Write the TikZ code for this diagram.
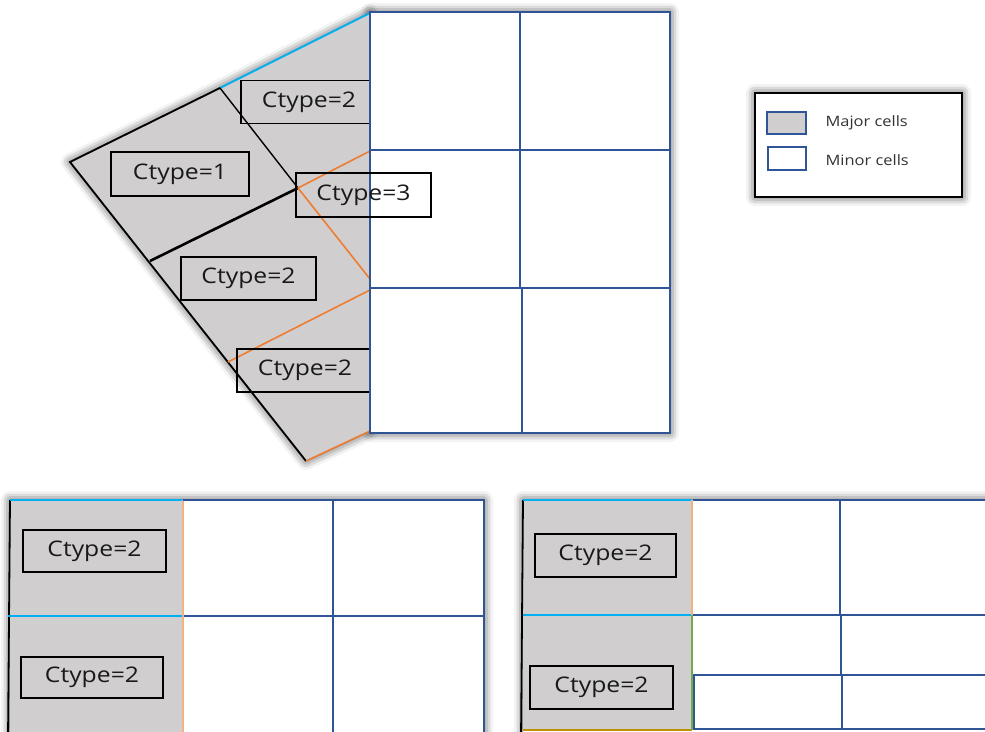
\documentclass[tikz,border=0pt]{standalone}
\usepackage{fontspec}
\setmainfont{Open Sans}
\newfontfamily\lblfont[FakeStretch=1.15]{Open Sans}
\usetikzlibrary{positioning,shadows.blur}
\definecolor{gridblue}{RGB}{47,85,151}
\definecolor{cellgray}{RGB}{208,206,206}
\definecolor{skyline}{RGB}{0,176,240}
\definecolor{orangeline}{RGB}{237,125,49}
\definecolor{peachline}{RGB}{244,177,131}
\definecolor{greenline}{RGB}{112,173,71}
\definecolor{goldline}{RGB}{191,144,0}
\newcommand{\majorhull}{(370,13)--(220,88)--(70,162)--(306,461)--(370,431)--cycle}
\newcommand{\topgrid}{(370,12) rectangle (670,433)}

\begin{document}
\begin{tikzpicture}[x=1pt,y=-1pt,
    ctype/.style={draw=black,line width=1.7pt,inner sep=0pt,minimum width=136pt,minimum height=43pt,
      text=black!90,font=\lblfont\fontsize{21.5}{24}\selectfont},
    gridline/.style={draw=gridblue,line width=1.8pt},
    glow/.style={blur shadow={shadow xshift=0pt,shadow yshift=0pt,shadow blur radius=9pt,shadow opacity=75}}]
    \useasboundingbox (0,0) rectangle (985,731);
    % ---- upper picture: rotated major cells against the minor grid
    \path[glow,fill=white] \topgrid;
    \fill[cellgray,glow] \majorhull;
    \coordinate (apex) at (370,13);   \coordinate (kink) at (220,88);
    \coordinate (tip) at (70,162);    \coordinate (foot) at (306,461);
    \coordinate (junc) at (298,188);  \coordinate (edgeA) at (150,261);
    \coordinate (edgeB) at (228,362);
    \draw[skyline,line width=1.8pt] (apex) -- (kink);
    \draw[black,line width=1.8pt] (kink) -- (tip) -- (foot);
    \draw[black,line width=1.4pt] (kink) -- (junc);
    \draw[black,line width=2.6pt] (junc) -- (edgeA);
    \draw[orangeline,line width=1.6pt] (junc) -- (370,151);
    \draw[orangeline,line width=1.6pt] (junc) -- (370,279);
    \draw[orangeline,line width=1.6pt] (370,290) -- (edgeB);
    \draw[orangeline,line width=1.6pt] (foot) -- (370,431);
    \node[ctype] (c2top) at (309,102) {Ctype=2};
    \node[ctype,minimum width=138pt,minimum height=44pt] (c1) at (180,174) {Ctype=1};
    \node[ctype,minimum width=135pt] (c2mid) at (248.5,278.5) {Ctype=2};
    \node[ctype] (c2low) at (305,370.5) {Ctype=2};
    % minor grid on top
    \filldraw[gridline,fill=white] \topgrid;
    \draw[gridline] (520,12) -- (520,288) (522,288) -- (522,433)
                    (370,150) -- (670,150) (370,288) -- (670,288);
    \node[ctype,minimum width=135pt,minimum height=44pt] (c3) at (363.5,195) {Ctype=3};
    % ---- legend
    \filldraw[glow,fill=white,draw=black,line width=2.2pt] (755,93) rectangle (962,197);
    \filldraw[fill=cellgray,draw=gridblue,line width=1.5pt] (767,112) rectangle (806,134);
    \filldraw[fill=white,draw=gridblue,line width=1.5pt] (768,147) rectangle (806,170);
    \node[anchor=west,text=black!80,font=\lblfont\fontsize{14.3}{16}\selectfont] (major) at (822,123) {Major cells};
    \node[anchor=west,text=black!80,font=\lblfont\fontsize{14.3}{16}\selectfont] (minor) at (822,160) {Minor cells};
    % ---- lower left picture
    \path[glow,fill=white] (10,500) rectangle (484,745);
    \fill[cellgray] (10,500) rectangle (183,745);
    \fill[white] (183,500) rectangle (484,745);
    \draw[black,line width=1.8pt] (10,500) -- (8,740);
    \draw[skyline,line width=2pt] (10,500) -- (183,500) (8,616) -- (183,616);
    \draw[peachline,line width=1.6pt] (183,500) -- (183,740);
    \draw[gridline] (183,500) -- (484,500) -- (484,740) (333,500) -- (333,740) (184,616) -- (484,616);
    \node[ctype,minimum width=143pt,minimum height=42pt] (bl1) at (94.5,551) {Ctype=2};
    \node[ctype,minimum width=142pt,minimum height=41pt] (bl2) at (92,677.5) {Ctype=2};
    % ---- lower right picture
    \path[glow,fill=white] (523,500) rectangle (1000,745);
    \fill[cellgray] (523,500) rectangle (692,730);
    \fill[white] (692,500) rectangle (1000,729);
    \draw[black,line width=1.8pt] (523,500) -- (521,740);
    \draw[skyline,line width=2pt] (523,500) -- (692,500) (523,615) -- (692,615);
    \draw[goldline,line width=1.8pt] (523,730) -- (692,730);
    \draw[peachline,line width=1.8pt] (692,500) -- (692,615);
    \draw[greenline,line width=1.8pt] (692,615) -- (692,730);
    \draw[gridline] (693,500) -- (1000,500) (693,615) -- (1000,615) (693,675) -- (1000,675)
                    (693,729) -- (1000,729) (840,500) -- (840,615) (841,615) -- (841,675)
                    (842,675) -- (842,729) (694,675) -- (694,729);
    \node[ctype,minimum width=141pt] (br1) at (605.5,555.5) {Ctype=2};
    \node[ctype,minimum width=143pt] (br2) at (601.5,687.5) {Ctype=2};
\end{tikzpicture}
\end{document}
